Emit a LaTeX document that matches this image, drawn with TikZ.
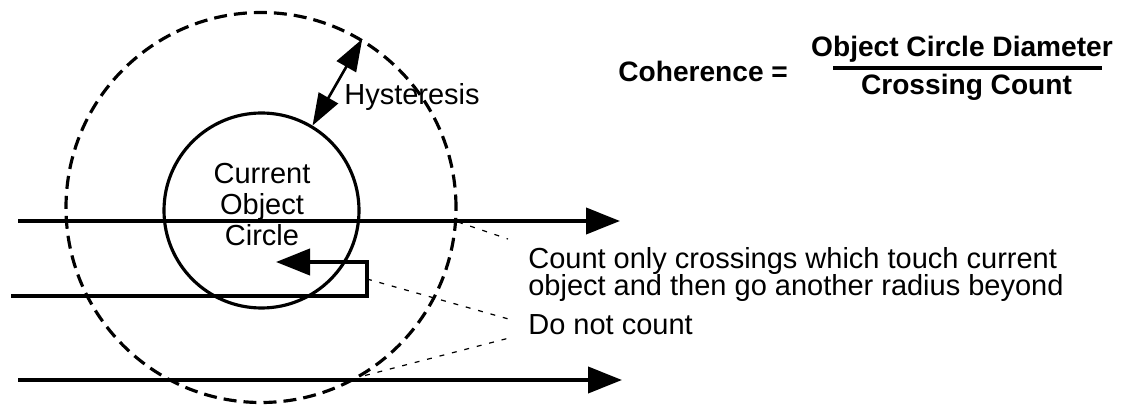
\documentclass[tikz,border=0pt]{standalone}
\usepackage{fontspec}
\setmainfont{Liberation Sans}
\usetikzlibrary{positioning}
\usetikzlibrary{arrows.meta}
\usetikzlibrary{calc}
\tikzset{ray/.style={line width=2.3pt, -{Triangle[length=0.68cm,width=0.52cm]}}}
\tikzset{lead/.style={line width=0.7pt, dash pattern=on 2.8pt off 4.5pt}}
\tikzset{txt/.style={inner sep=0pt, font=\fontsize{16.5}{15.4}\selectfont}}
\tikzset{eqn/.style={inner sep=0pt, font=\bfseries\fontsize{16}{16}\selectfont}}
\tikzset{hyarr/.style={line width=1.5pt, {Triangle[length=0.64cm,width=0.44cm]}-{Triangle[length=0.64cm,width=0.44cm]}}}

\begin{document}
\begin{tikzpicture}
    \useasboundingbox (0,0) rectangle (22.54,8.08);

    \node[draw, circle, line width=1.8pt, minimum size=3.9cm, inner sep=0pt] (obj) at (5.23,3.87) {};
    \node[draw, circle, dash pattern=on 7.4pt off 4pt, line width=1.8pt, minimum size=7.8cm, inner sep=0pt] (hyst) at (5.22,3.93) {};
    \node[txt, align=center, font=\fontsize{16.5}{17.6}\selectfont] (objtxt) at (5.24,3.99) {Current\\Object\\Circle};

    \draw[hyarr] (obj.59) -- (hyst.59);
    \node[txt, anchor=base west] (hys) at (6.88,5.98) {Hysteresis};

    % crossing rays
    \coordinate (a0) at (0.36,3.66);
    \coordinate (a1) at (12.40,3.66);
    \draw[ray] (a0) -- (a1);

    \coordinate (b0) at (0.22,2.16);
    \coordinate (b1) at (7.34,2.16);
    \coordinate (b2) at (7.34,2.84);
    \coordinate (b3) at (5.52,2.84);
    \draw[ray, line join=miter] (b0) -- (b1) -- (b2) -- (b3);

    \coordinate (c0) at (0.36,0.48);
    \coordinate (c1) at (12.44,0.48);
    \draw[ray] (c0) -- (c1);

    \node[txt, anchor=north west, align=left] (only) at (10.56,3.14) {Count only crossings which touch current\\object and then go another radius beyond};
    \node[txt, anchor=base west] (dont) at (10.56,1.40) {Do not count};

    % leaders
    \coordinate (l1) at (9.16,3.64);
    \coordinate (l3) at (7.30,0.57);
    \draw[lead] (l1) -- ($(only.north west)+(-0.4,0.16)$);
    \draw[lead] ($(b1)!0.5!(b2)$) -- ($(dont.base west)+(-0.32,0.28)$);
    \draw[lead] (l3) -- ($(dont.base west)+(-0.30,-0.06)$);

    % formula
    \node[eqn, anchor=base west] (coh) at (12.36,6.44) {Coherence =};
    \node[eqn, anchor=base] (num) at (19.24,6.94) {Object Circle Diameter};
    \node[eqn, anchor=base] (den) at (19.33,6.18) {Crossing Count};
    \coordinate (barl) at (16.66,6.72);
    \coordinate (barr) at (22.04,6.72);
    \draw[line width=2.3pt] (barl) -- (barr);
\end{tikzpicture}
\end{document}
